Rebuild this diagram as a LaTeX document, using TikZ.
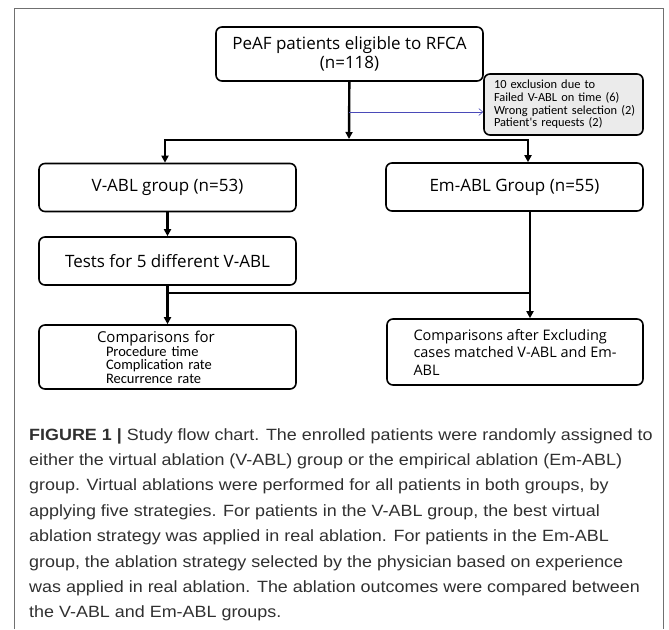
\documentclass[tikz,border=0pt]{standalone}
\usepackage{fontspec}
\setmainfont{Liberation Sans}[FakeStretch=1.1]
\newfontfamily\chartfont{Open Sans}
\newfontfamily\notefont{Carlito}
\usetikzlibrary{arrows.meta, positioning}
\definecolor{frameGray}{HTML}{707070}
\definecolor{noteGray}{HTML}{EBEBEB}
\definecolor{lineBlue}{HTML}{4A4AB8}
\definecolor{capText}{HTML}{303030}

\begin{document}
\begin{tikzpicture}[x=1pt, y=-1pt,
    stage/.style={rectangle, rounded corners=6pt, draw, line width=1.6pt,
      minimum width=257pt, minimum height=48pt, align=center,
      font=\chartfont\fontsize{17}{19}\selectfont},
    note/.style={rectangle, rounded corners=6pt, draw, fill=noteGray,
      line width=1.6pt, text width=145pt, minimum height=61pt, inner xsep=7pt,
      align=left, font=\notefont\fontsize{12.4}{12.7}\selectfont},
    ln/.style={line width=2.4pt},
    ar/.style={-{Triangle[length=7pt, width=7pt]}, line width=2.4pt},
    thin/.style={-{Straight Barb[length=4pt, width=7pt]}, line width=0.6pt, lineBlue},
    caption/.style={anchor=north west, inner sep=0pt, align=left, text=capText,
      font=\fontsize{16.3}{25.4}\selectfont}]
  \useasboundingbox (0,0) rectangle (669,629);
  \draw[frameGray, line width=1pt] (14,629) -- (14,8) -- (663.5,8) -- (663.5,629);

  \node[stage, minimum width=267pt, minimum height=54pt] (top) at (349.5,54)
    {PeAF patients eligible to RFCA\\(n=118)};
  \node[note] (excl) at (563.5,104.5)
    {\hspace*{3pt}10 exclusion due to\\\hspace*{3pt}Failed V-ABL on time (6)\\\hspace*{3pt}Wrong patient selection (2)\\\hspace*{3pt}Patient's requests (2)};
  \node[stage] (vabl) at (167.5,187.5) {V-ABL group (n=53)};
  \node[stage] (emabl) at (514.5,187) {Em-ABL Group (n=55)};
  \node[stage] (tests) at (167.5,261) {Tests for 5 different V-ABL};
  \node[stage, minimum height=64pt, text width=141pt, inner xsep=58pt, align=left,
    font=\chartfont\fontsize{15}{15}\selectfont] (cmpfor) at (167.5,357)
    {Comparisons for\\[-1pt]
     \hspace*{9pt}{\notefont\fontsize{14.5}{14}\selectfont Procedure time}\\[-1.5pt]
     \hspace*{9pt}{\notefont\fontsize{14.5}{14}\selectfont Complication rate}\\[-1.5pt]
     \hspace*{9pt}{\notefont\fontsize{14.5}{14}\selectfont Recurrence rate}};
  \node[stage, minimum width=256pt, minimum height=66pt, align=left,
    font=\chartfont\fontsize{14.5}{17.5}\selectfont] (cmpafter) at (515,352)
    {Comparisons after Excluding\\cases matched V-ABL and Em-\\ABL};

  % split after enrolment
  \coordinate (mid) at (349,139);
  \coordinate (barL) at (165,140);
  \coordinate (barR) at (528,140);
  \draw[ar] (top) -- (mid);
  \draw[thin] (349,112) -- (349,112 -| excl.west);
  \draw[ln] ([xshift=-1.2pt]barL) -- ([xshift=1.2pt]barR);
  \draw[ar] (barL) -- (barL |- vabl.north);
  \draw[ar] (barR) -- (barR |- emabl.north);
  \draw[ar] (vabl) -- (tests);

  % comparisons
  \coordinate (join) at (167,293);
  \coordinate (emdown) at (530,211);
  \draw[ar] (tests) -- (cmpfor);
  \draw[ar] (emdown) -- (emdown |- cmpafter.north);
  \draw[ln] (join) -- (join -| emdown);

  \node[caption] (cap) at (29,428)
    {\textbf{FIGURE 1 |} Study flow chart. The enrolled patients were randomly assigned to\\
     either the virtual ablation (V-ABL) group or the empirical ablation (Em-ABL)\\
     group. Virtual ablations were performed for all patients in both groups, by\\
     applying five strategies. For patients in the V-ABL group, the best virtual\\
     ablation strategy was applied in real ablation. For patients in the Em-ABL\\
     group, the ablation strategy selected by the physician based on experience\\
     was applied in real ablation. The ablation outcomes were compared between\\
     the V-ABL and Em-ABL groups.};
\end{tikzpicture}
\end{document}
